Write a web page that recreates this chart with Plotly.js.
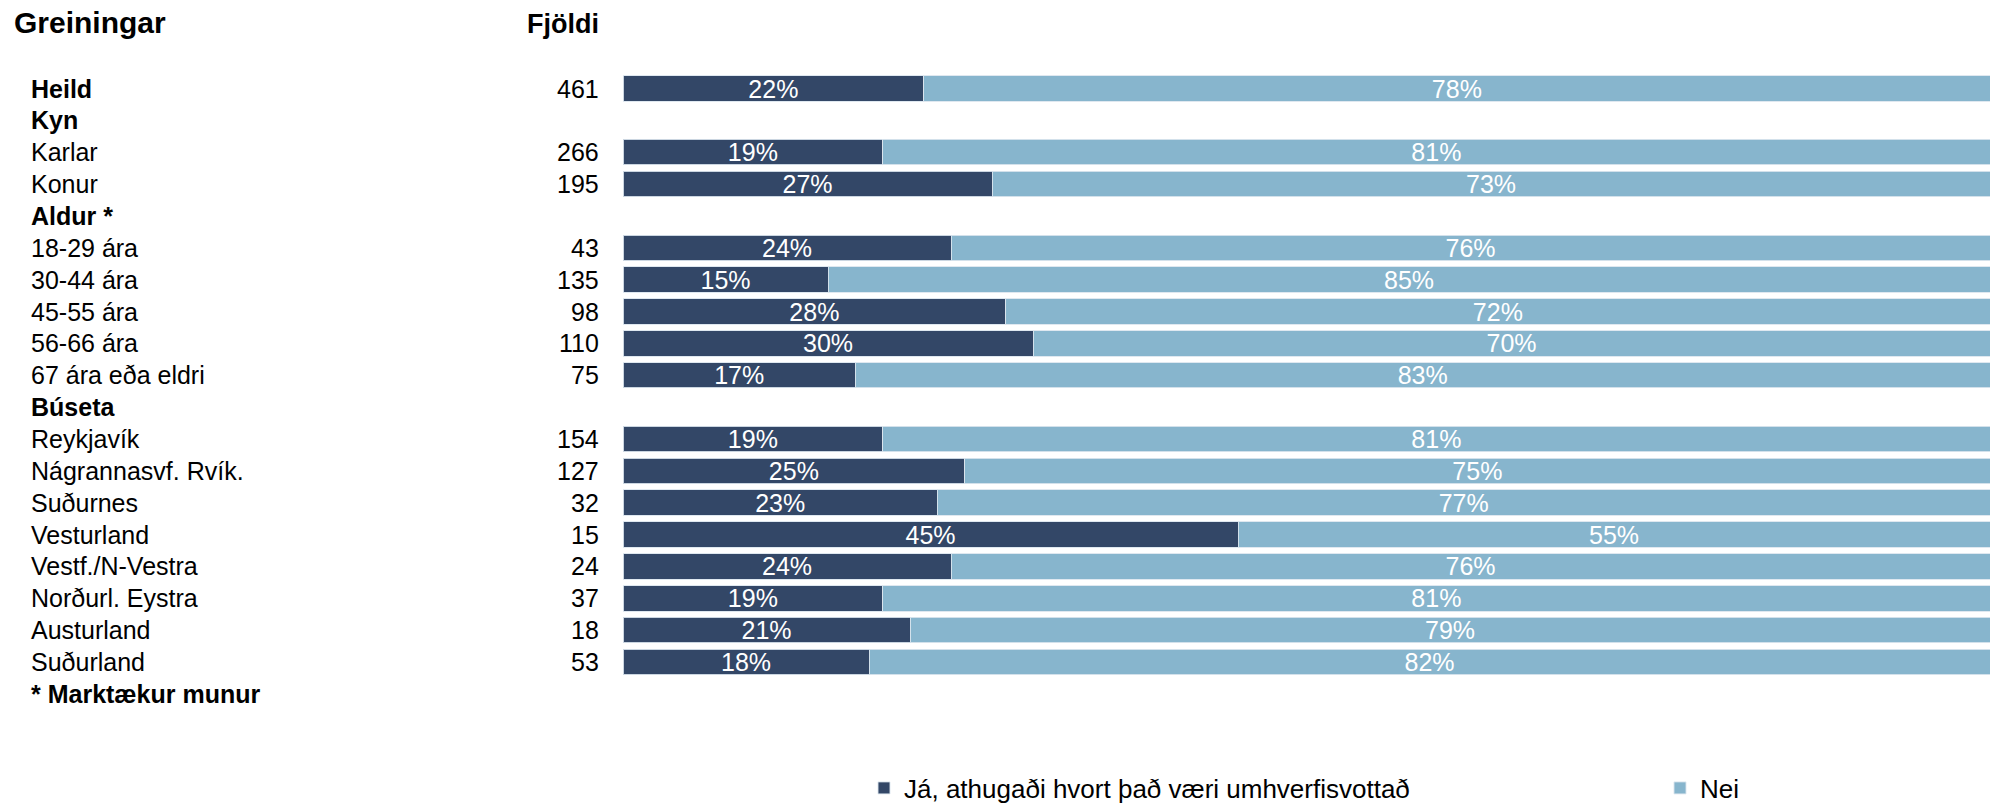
<!DOCTYPE html>
<html>
<head>
<meta charset="utf-8">
<script src="https://cdn.plot.ly/plotly-3.0.1.min.js"></script>
<style>html,body{margin:0;padding:0;background:#fff;}#chart{width:1990px;height:806px;}</style>
</head>
<body>
<div id="chart"></div>
<script>
const categories = ['Heild','Kyn','Karlar','Konur','Aldur *','18-29 ára','30-44 ára','45-55 ára','56-66 ára','67 ára eða eldri','Búseta','Reykjavík','Nágrannasvf. Rvík.','Suðurnes','Vesturland','Vestf./N-Vestra','Norðurl. Eystra','Austurland','Suðurland'];
const boldRows = ['Heild','Kyn','Aldur *','Búseta'];
const counts = [461,null,266,195,null,43,135,98,110,75,null,154,127,32,15,24,37,18,53];
const ja = [22,null,19,27,null,24,15,28,30,17,null,19,25,23,45,24,19,21,18];
const nei = [78,null,81,73,null,76,85,72,70,83,null,81,75,77,55,76,81,79,82];
const seriesNames = ['Já, athugaði hvort það væri umhverfisvottað','Nei'];
const colors = ['#334767','#87b5cd'];
const headerLeft = 'Greiningar';
const headerCount = 'Fjöldi';
const footnote = '* Marktækur munur';

const FONT = 'Liberation Sans, Arial, sans-serif';
const W = 1990, H = 806;
const rows = categories.map((c,i)=>i);

function barTrace(vals, name, color, legendId){
  return {
    type:'bar', orientation:'h', name:name, legend:legendId,
    y: rows, x: vals,
    marker:{color:color, line:{color:'rgba(220,230,238,0.9)', width:1}},
    texttemplate:'%{x}%', textposition:'inside', insidetextanchor:'middle',
    constraintext:'none',
    textfont:{family:FONT, size:25, color:'#ffffff'},
    hoverinfo:'skip'
  };
}

const data = [barTrace(ja, seriesNames[0], colors[0], 'legend'), barTrace(nei, seriesNames[1], colors[1], 'legend2')];

const annotations = [];
categories.forEach((c,i)=>{
  const bold = boldRows.includes(c);
  annotations.push({xref:'paper', yref:'y', x:29/W, y:i, xanchor:'left', yanchor:'middle',
    text: bold ? '<b>'+c+'</b>' : c, showarrow:false,
    font:{family:FONT, size:25, color:'#000'}});
  if(counts[i]!==null){
    annotations.push({xref:'paper', yref:'y', x:601/W, y:i, xanchor:'right', yanchor:'middle',
      text:String(counts[i]), showarrow:false, font:{family:FONT, size:25, color:'#000'}});
  }
});
annotations.push({xref:'paper', yref:'y', x:29/W, y:categories.length, xanchor:'left', yanchor:'middle',
  text:'<b>'+footnote+'</b>', showarrow:false, font:{family:FONT, size:25, color:'#000'}});
annotations.push({xref:'paper', yref:'paper', x:12/W, y:1-23/H, xanchor:'left', yanchor:'middle',
  text:'<b>'+headerLeft+'</b>', showarrow:false, font:{family:FONT, size:30, color:'#000'}});
annotations.push({xref:'paper', yref:'paper', x:601/W, y:1-24/H, xanchor:'right', yanchor:'middle',
  text:'<b>'+headerCount+'</b>', showarrow:false, font:{family:FONT, size:27, color:'#000'}});

const rowTop = 88.5, rowStep = 31.86;
const legendBase = {orientation:'h', xref:'paper', yref:'paper', xanchor:'left',
  y:(H-788)/H, yanchor:'middle', font:{family:FONT, size:26, color:'#000'},
  bgcolor:'rgba(0,0,0,0)', itemwidth:30};
const layout = {
  width:W, height:H,
  margin:{l:0,r:0,t:0,b:0,autoexpand:false},
  paper_bgcolor:'#fff', plot_bgcolor:'#fff',
  barmode:'stack', bargap:0.2,
  showlegend:true,
  legend:Object.assign({}, legendBase, {x:864/W}),
  legend2:Object.assign({}, legendBase, {x:1660/W}),
  xaxis:{domain:[623/W,1], range:[0,100], visible:false, fixedrange:true},
  yaxis:{range:[(H-rowTop)/rowStep, -rowTop/rowStep], visible:false, fixedrange:true},
  annotations:annotations,
  font:{family:FONT}
};

Plotly.newPlot('chart', data, layout, {displayModeBar:false, staticPlot:true});
</script>
</body>
</html>
